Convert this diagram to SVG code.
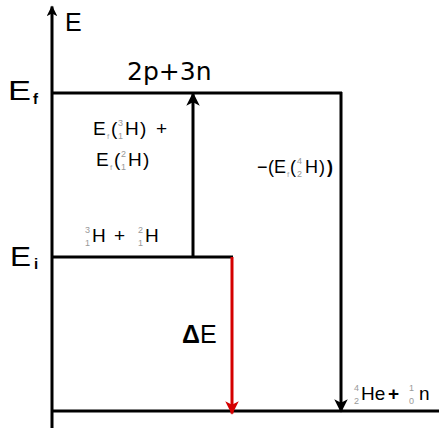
<svg xmlns="http://www.w3.org/2000/svg" width="439" height="429" viewBox="0 0 439 429">
<style>
.ln{stroke:#000;stroke-width:3;fill:none}
.t{font-family:"Liberation Sans",Arial,sans-serif;fill:#000}
.s{font-family:"Liberation Sans",Arial,sans-serif;fill:#999;font-size:9px}
.sf{font-family:"Liberation Sans",Arial,sans-serif;fill:#aaa;font-size:8px}
</style>
<defs>
<marker id="ab" viewBox="0 0 10 10" refX="9" refY="5" markerWidth="4.5" markerHeight="4.5" orient="auto" markerUnits="strokeWidth"><path d="M0,0 L10,5 L0,10 L2.5,5 z" fill="#000"/></marker>
<marker id="aa" viewBox="0 0 10 10" refX="9" refY="5" markerWidth="3.6" markerHeight="3.6" orient="auto" markerUnits="strokeWidth"><path d="M0,0 L10,5 L0,10 L2.5,5 z" fill="#000"/></marker>
<marker id="ar" viewBox="0 0 10 10" refX="9" refY="5" markerWidth="4.5" markerHeight="4.5" orient="auto" markerUnits="strokeWidth"><path d="M0,0 L10,5 L0,10 L2.5,5 z" fill="#d40000"/></marker>
</defs>
<rect width="439" height="429" fill="#fff"/>
<g id="axes">
<line class="ln" x1="52" y1="428" x2="52" y2="6.5" marker-end="url(#aa)"/>
<line class="ln" x1="52" y1="411" x2="439" y2="411"/>
<text class="t" x="65" y="31" font-size="25">E</text>
</g>
<g id="level-f">
<line class="ln" x1="52" y1="93" x2="342" y2="93"/>
<text class="t" x="8" y="100" font-size="28" textLength="23" lengthAdjust="spacingAndGlyphs">E</text>
<text class="t" x="33" y="104" font-size="15" font-weight="bold">f</text>
<text x="127" y="80" font-size="25" font-family="DejaVu Sans,sans-serif" fill="#000">2p+3n</text>
</g>
<g id="level-i">
<line class="ln" x1="52" y1="257" x2="233" y2="257"/>
<text class="t" x="10" y="266" font-size="27" textLength="21" lengthAdjust="spacingAndGlyphs">E</text>
<text class="t" x="34" y="269" font-size="15" font-weight="bold">i</text>
<text class="s" x="85" y="233">3</text><text class="s" x="85" y="246">1</text>
<text class="t" x="92" y="242" font-size="19">H</text>
<text class="t" x="114" y="242" font-size="19">+</text>
<text class="s" x="138" y="233">2</text><text class="s" x="138" y="246">1</text>
<text class="t" x="145" y="242" font-size="19">H</text>
</g>
<g id="connectors">
<line class="ln" x1="193" y1="257" x2="193" y2="93.5" marker-end="url(#ab)"/>
<line class="ln" x1="341" y1="92" x2="341" y2="411.5" marker-end="url(#ab)"/>
<line x1="232" y1="257" x2="232" y2="413.5" stroke="#d40000" stroke-width="3" marker-end="url(#ar)"/>
</g>
<g id="label-bind">
<text class="t" x="93" y="135" font-size="19">E</text>
<text class="sf" x="107" y="139">f</text>
<text class="t" x="111" y="135" font-size="19">(</text>
<text class="s" x="118" y="126">3</text><text class="s" x="118" y="139">1</text>
<text class="t" x="125" y="135" font-size="19">H</text>
<text class="t" x="140" y="135" font-size="19">)</text>
<text class="t" x="156" y="135" font-size="19">+</text>
<text class="t" x="96" y="166" font-size="19">E</text>
<text class="sf" x="110" y="170">f</text>
<text class="t" x="114" y="166" font-size="19">(</text>
<text class="s" x="121" y="157">2</text><text class="s" x="121" y="170">1</text>
<text class="t" x="128" y="166" font-size="19">H</text>
<text class="t" x="143" y="166" font-size="19">)</text>
</g>
<g id="label-he">
<text class="t" x="257" y="173" font-size="18">−</text>
<text class="t" x="268" y="173" font-size="18">(</text>
<text class="t" x="274" y="173" font-size="18">E</text>
<text class="sf" x="287" y="177">f</text>
<text class="t" x="290" y="173" font-size="18">(</text>
<text class="s" x="297" y="164">4</text><text class="s" x="297" y="177">2</text>
<text class="t" x="305" y="173" font-size="18">H</text>
<text class="t" x="319" y="173" font-size="18">)</text>
<text class="t" x="327" y="173" font-size="18" font-weight="bold">)</text>
</g>
<g id="label-de">
<text class="t" x="182" y="343" font-size="25"><tspan font-weight="bold">Δ</tspan>E</text>
</g>
<g id="label-prod">
<text class="s" x="354" y="391">4</text><text class="s" x="354" y="404">2</text>
<text class="t" x="361" y="400" font-size="19">He</text>
<text class="t" x="388" y="400" font-size="19" font-weight="bold">+</text>
<text class="s" x="409" y="391">1</text><text class="s" x="409" y="404">0</text>
<text class="t" x="419" y="400" font-size="19">n</text>
</g>
</svg>
